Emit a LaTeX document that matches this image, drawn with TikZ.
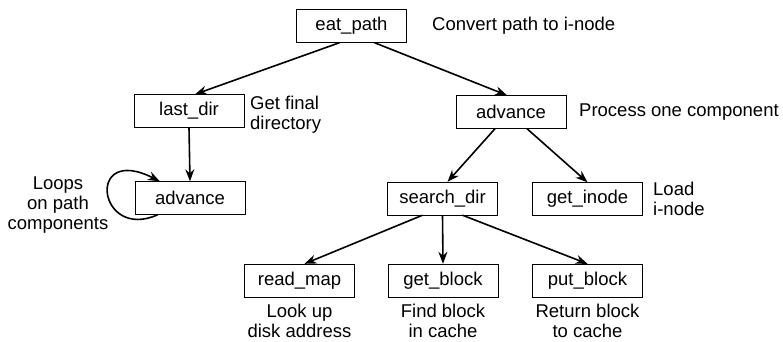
\documentclass[tikz,border=0pt]{standalone}
\usepackage{fontspec}
\setmainfont{Liberation Sans}
\usepackage{tikz}
\usetikzlibrary{arrows.meta, positioning, calc}

\begin{document}
\begin{tikzpicture}[
      x=1pt, y=1pt,
      proc/.style={draw, thin, minimum width=110pt, minimum height=33pt, inner sep=0pt,
        font=\fontsize{18.5}{20}\selectfont},
      note/.style={inner sep=0pt, font=\fontsize{18.5}{20}\selectfont},
      call/.style={-{Stealth[length=12pt, width=9pt]}, line width=1.6pt},
    ]
    \useasboundingbox (0,0) rectangle (783,-341);
    % call tree boxes
    \node[proc] (eat)    at (351.5, -26)  {eat\_path};
    \node[proc] (lastd)  at (189, -111)   {last\_dir};
    \node[proc] (advr)   at (511, -112)   {advance};
    \node[proc] (advl)   at (190, -198)   {advance};
    \node[proc] (search) at (442.5, -198.5) {search\_dir};
    \node[proc] (inode)  at (587.5, -199) {get\_inode};
    % leaf row: box + comment underneath
    \foreach \nm/\lab/\x/\com in {%
        rmap/read\_map/299.5/{Look up\\disk address},
        gblock/get\_block/443/{Find block\\in cache},
        pblock/put\_block/587.5/{Return block\\to cache}} {
      \node[proc] (\nm) at (\x, -280.5) {\lab};
      \node[note, align=center] (\nm-c) at (\x, -321) {\com};
    }
    % side comments
    \node[note, anchor=west] (eat-c) at (432, -26) {Convert path to i-node};
    \node[note, anchor=west, align=left] (lastd-c) at (250, -115) {Get final\\directory};
    \node[note, anchor=west] (advr-c) at (579, -112) {Process one component};
    \node[note, anchor=west, align=left] (inode-c) at (653, -199) {Load\\i-node};
    \node[note, align=center] (advl-c) at (58, -205) {Loops\\on path\\components};
    % calls
    \draw[call] ([xshift=-12pt]eat.south) -- ([xshift=6pt]lastd.north);
    \draw[call] ([xshift=23pt]eat.south) -- ([xshift=-4pt]advr.north);
    \draw[call] (lastd.south) -- (advl.north);
    \draw[call] ([xshift=-16pt]advr.south) -- ([xshift=5pt]search.north);
    \draw[call] ([xshift=16pt]advr.south) -- (inode.north);
    \draw[call] ([xshift=-20pt]search.south) -- ([xshift=5pt]rmap.north);
    \draw[call] (search.south) -- (gblock.north);
    \draw[call] ([xshift=20pt]search.south) -- (pblock.north);
    % loop over path components
    \draw[call] ([xshift=23pt]advl.south west)
      .. controls ++(-60,-27) and ++(-75,38) .. ([xshift=25pt]advl.north west);
  \end{tikzpicture}
\end{document}
